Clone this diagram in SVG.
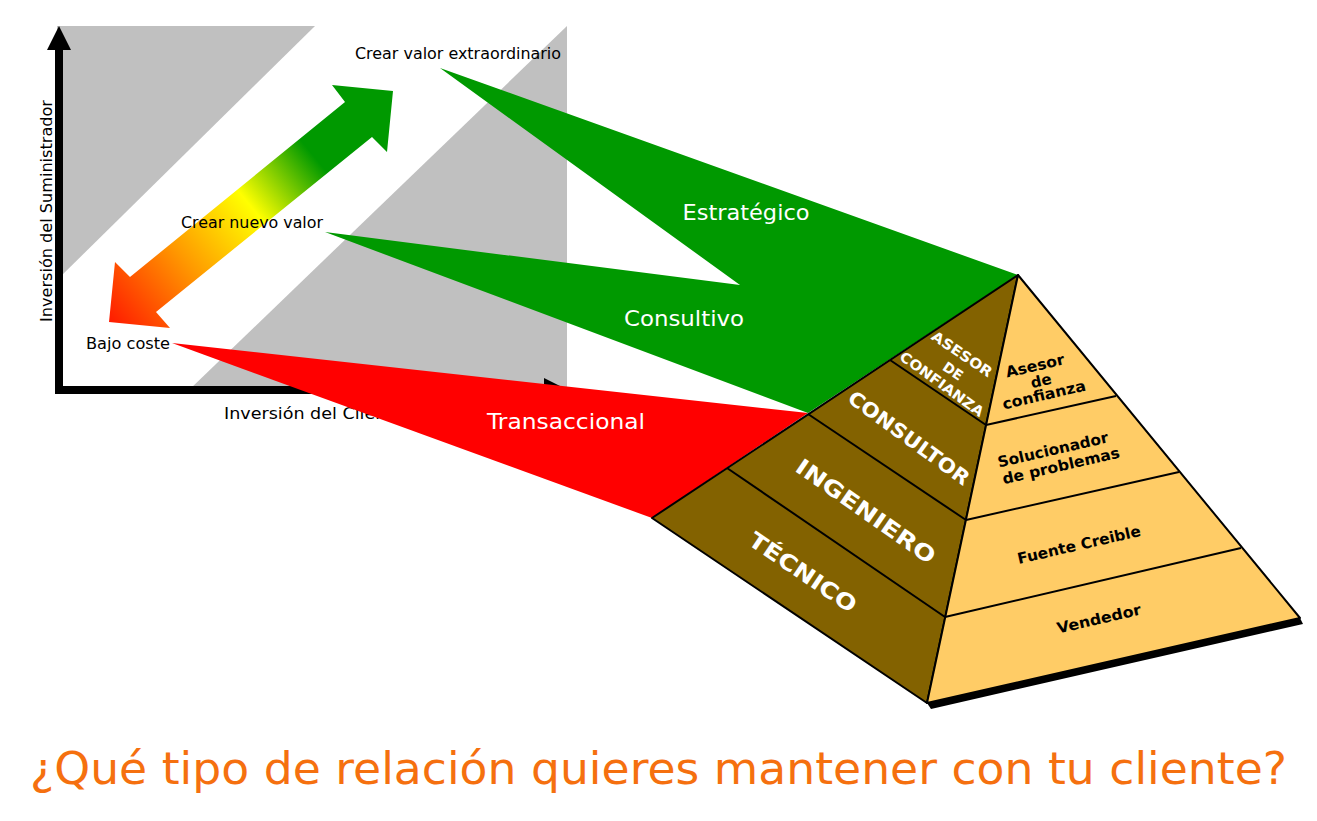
<svg xmlns="http://www.w3.org/2000/svg" width="1317" height="821" viewBox="0 0 1317 821">
  <style>
    .lbl { font-family: "DejaVu Sans", Verdana, sans-serif; font-size: 16px; fill: #000; }
    .beam { font-family: "DejaVu Sans", Verdana, sans-serif; font-size: 21px; fill: #fff; text-anchor: middle; }
    .lf { font-family: "DejaVu Sans", Verdana, sans-serif; font-weight: bold; fill: #fff; text-anchor: middle; }
    .rf { font-family: "DejaVu Sans", Verdana, sans-serif; font-weight: bold; font-size: 15px; fill: #000; text-anchor: middle; }
    .edge { stroke: #000; stroke-width: 2; fill: none; }
    .grey { fill: #c0c0c0; }
  </style>
  <defs>
    <linearGradient id="arrowGrad" gradientUnits="userSpaceOnUse" x1="109" y1="322" x2="393" y2="91">
      <stop offset="0" stop-color="#ff1a00"/>
      <stop offset="0.27" stop-color="#ff9a00"/>
      <stop offset="0.5" stop-color="#ffff00"/>
      <stop offset="0.72" stop-color="#009900"/>
      <stop offset="1" stop-color="#009900"/>
    </linearGradient>
  </defs>
  <rect width="1317" height="821" fill="#fff"/>

  <g id="chart">
    <polygon class="grey" points="57,26 315,26 57,280"/>
    <polygon class="grey" points="567,26 567,390 189,390"/>
    <line x1="59" y1="46" x2="59" y2="394" stroke="#000" stroke-width="8"/>
    <polygon points="59,26 47,50 71,50" fill="#000"/>
    <line x1="55" y1="390" x2="548" y2="390" stroke="#000" stroke-width="8"/>
    <polygon points="568,390 544,378 544,402" fill="#000"/>
    <text class="lbl" x="224" y="419" textLength="180" lengthAdjust="spacingAndGlyphs">Inversión del Cliente</text>
    <text class="lbl" transform="translate(52,211) rotate(-90)" text-anchor="middle" textLength="222" lengthAdjust="spacingAndGlyphs">Inversión del Suministrador</text>
  </g>

  <g id="double-arrow">
    <polygon fill="url(#arrowGrad)" points="109,322 115,262 130,277 345,102 332,85 393,91 387,152 372,137 156,312 170,328"/>
  </g>

  <g id="label-extraordinario">
    <text class="lbl" x="355" y="59" textLength="206" lengthAdjust="spacingAndGlyphs">Crear valor extraordinario</text>
  </g>
  <g id="label-nuevo">
    <text class="lbl" x="181" y="228" textLength="142" lengthAdjust="spacingAndGlyphs">Crear nuevo valor</text>
  </g>
  <g id="label-bajo">
    <text class="lbl" x="86" y="349" textLength="84" lengthAdjust="spacingAndGlyphs">Bajo coste</text>
  </g>

  <g id="connectors">
    <polygon fill="#009900" points="440,68 1018,275 808,413 325,232 740,285"/>
    <polygon fill="#ff0000" points="172,343 808,413 652,518"/>
    <text class="beam" x="746" y="220" textLength="127" lengthAdjust="spacingAndGlyphs">Estratégico</text>
    <text class="beam" x="684" y="326" textLength="120" lengthAdjust="spacingAndGlyphs">Consultivo</text>
    <text class="beam" x="566" y="429" textLength="158" lengthAdjust="spacingAndGlyphs">Transaccional</text>
  </g>

  <g id="pyramid">
    <polygon points="927,703 1300,618 1303,624 931,709" fill="#000"/>
    <polygon id="left-face" points="1018,275 652,518 927,703" fill="#836200" stroke="#000" stroke-width="2" stroke-linejoin="round"/>
    <polygon id="right-face" points="1018,275 927,703 1300,618" fill="#ffcc66" stroke="#000" stroke-width="2" stroke-linejoin="round"/>
    <line class="edge" x1="890" y1="360" x2="986" y2="425"/>
    <line class="edge" x1="808" y1="414" x2="966" y2="520"/>
    <line class="edge" x1="727" y1="468" x2="945" y2="617"/>
    <line class="edge" x1="986" y1="425" x2="1116" y2="396"/>
    <line class="edge" x1="966" y1="520" x2="1179" y2="472"/>
    <line class="edge" x1="945" y1="617" x2="1241" y2="548"/>
  </g>

  <g id="level-asesor-left">
    <text class="lf" font-size="14" transform="translate(962,354) rotate(34)" y="5" textLength="70" lengthAdjust="spacingAndGlyphs">ASESOR</text>
    <text class="lf" font-size="14" transform="translate(953,371) rotate(34)" y="5">DE</text>
    <text class="lf" font-size="14" transform="translate(942,384) rotate(36)" y="5" textLength="100" lengthAdjust="spacingAndGlyphs">CONFIANZA</text>
  </g>
  <g id="level-consultor">
    <text class="lf" font-size="20" transform="translate(909,438) rotate(36)" y="7" textLength="145" lengthAdjust="spacingAndGlyphs">CONSULTOR</text>
  </g>
  <g id="level-ingeniero">
    <text class="lf" font-size="22" transform="translate(866,511) rotate(35)" y="8" textLength="165" lengthAdjust="spacingAndGlyphs">INGENIERO</text>
  </g>
  <g id="level-tecnico">
    <text class="lf" font-size="22" transform="translate(803,572) rotate(34)" y="8" textLength="125" lengthAdjust="spacingAndGlyphs">TÉCNICO</text>
  </g>

  <g id="level-asesor-right">
    <text class="rf" transform="translate(1035,366) rotate(-13)" y="5" textLength="60" lengthAdjust="spacingAndGlyphs">Asesor</text>
    <text class="rf" transform="translate(1041,381) rotate(-13)" y="5">de</text>
    <text class="rf" transform="translate(1044,395) rotate(-13)" y="5" textLength="85" lengthAdjust="spacingAndGlyphs">confianza</text>
  </g>
  <g id="level-solucionador">
    <text class="rf" transform="translate(1053,450) rotate(-13)" y="5" textLength="113" lengthAdjust="spacingAndGlyphs">Solucionador</text>
    <text class="rf" transform="translate(1061,466) rotate(-13)" y="5" textLength="120" lengthAdjust="spacingAndGlyphs">de problemas</text>
  </g>
  <g id="level-fuente">
    <text class="rf" transform="translate(1079,545) rotate(-13)" y="5" textLength="126" lengthAdjust="spacingAndGlyphs">Fuente Creible</text>
  </g>
  <g id="level-vendedor">
    <text class="rf" transform="translate(1099,619) rotate(-13)" y="5" textLength="86" lengthAdjust="spacingAndGlyphs">Vendedor</text>
  </g>

  <g id="title">
    <text x="30" y="784" font-family="DejaVu Sans, Verdana, sans-serif" font-size="44" fill="#f5700f" textLength="1257" lengthAdjust="spacingAndGlyphs">¿Qué tipo de relación quieres mantener con tu cliente?</text>
  </g>
</svg>
